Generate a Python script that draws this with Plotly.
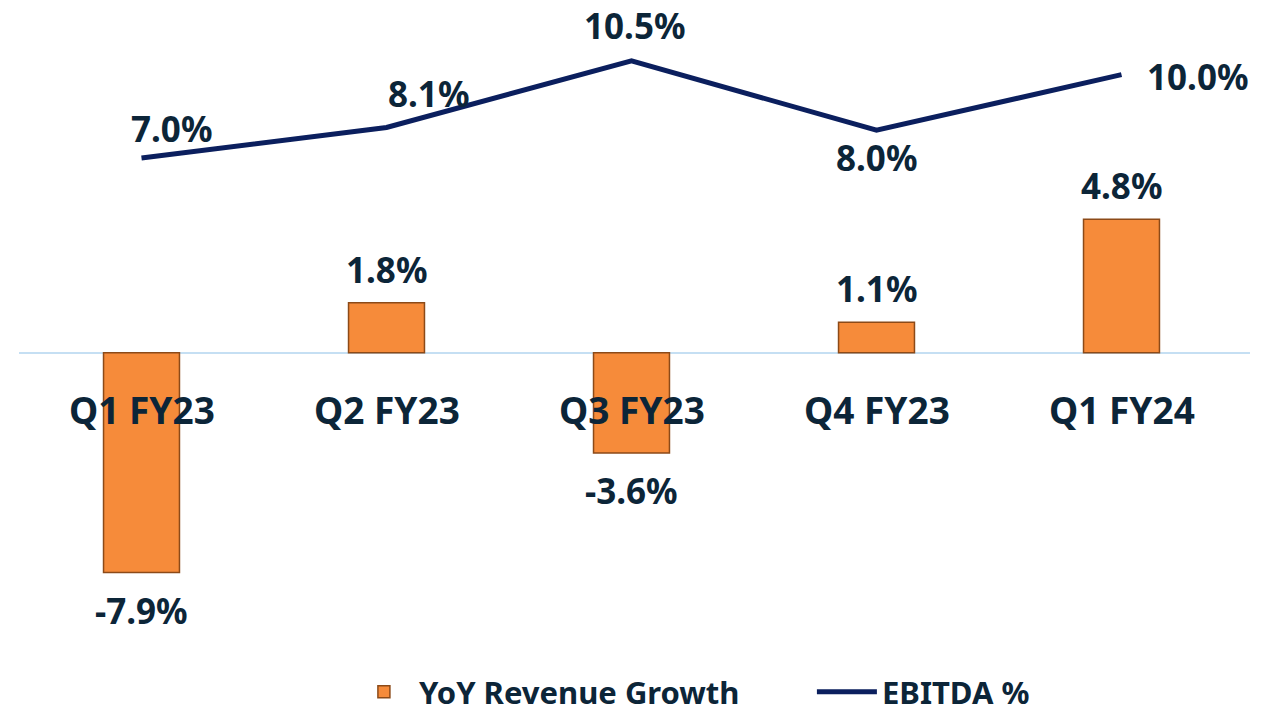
import plotly.graph_objects as go

categories = ["Q1 FY23", "Q2 FY23", "Q3 FY23", "Q4 FY23", "Q1 FY24"]
revenue_growth = [-7.9, 1.8, -3.6, 1.1, 4.8]
ebitda = [7.0, 8.1, 10.5, 8.0, 10.0]

TEXT = "#0c2538"
LINE = "#0b1f5e"
ORANGE = "#f68b3a"
FONT = "Noto Sans"

# label placement offsets (pixels) for EBITDA labels
ebitda_offsets = [(30, 30), (42, 34), (3, 35), (0, -27), (76, -2)]

fig = go.Figure()
fig.add_trace(go.Bar(
    x=categories, y=revenue_growth, name="YoY Revenue Growth",
    width=0.31,
    marker=dict(color=ORANGE, line=dict(color="#8c4a18", width=1.5)),
))
fig.add_trace(go.Scatter(
    x=categories, y=ebitda, name="EBITDA %", mode="lines",
    line=dict(color=LINE, width=5),
))

ann = []
for c, v in zip(categories, revenue_growth):
    ann.append(dict(x=c, y=v, text=f"{v:.1f}%", showarrow=False,
                    yanchor="bottom" if v > 0 else "top",
                    yshift=8 if v > 0 else -12,
                    font=dict(family=FONT, size=35, color=TEXT, weight="bold")))
for c, v, (dx, dy) in zip(categories, ebitda, ebitda_offsets):
    ann.append(dict(x=c, y=v, text=f"{v:.1f}%", showarrow=False,
                    xshift=dx, yshift=dy, yanchor="middle",
                    font=dict(family=FONT, size=35, color=TEXT, weight="bold")))
for c in categories:
    ann.append(dict(x=c, y=-2.05, text=c, showarrow=False, yanchor="middle",
                    font=dict(family=FONT, size=37, color=TEXT, weight="bold")))

fig.update_layout(
    width=1284, height=707,
    margin=dict(l=11, r=42, t=11, b=84, autoexpand=False),
    plot_bgcolor="white", paper_bgcolor="white",
    showlegend=True,
    legend=dict(orientation="h", x=0.268, xanchor="left", y=-0.1, yanchor="middle",
                font=dict(family=FONT, size=31, color=TEXT, weight="bold"),
                itemwidth=60, entrywidth=388, entrywidthmode="pixels"),
    xaxis=dict(showticklabels=False, showgrid=False, showline=False, zeroline=False),
    yaxis=dict(range=[-10, 12], showticklabels=False, showgrid=False,
               zeroline=True, zerolinecolor="#c5dff3", zerolinewidth=2),
    annotations=ann,
    bargap=0.69,
)

fig.write_html("out.html")
